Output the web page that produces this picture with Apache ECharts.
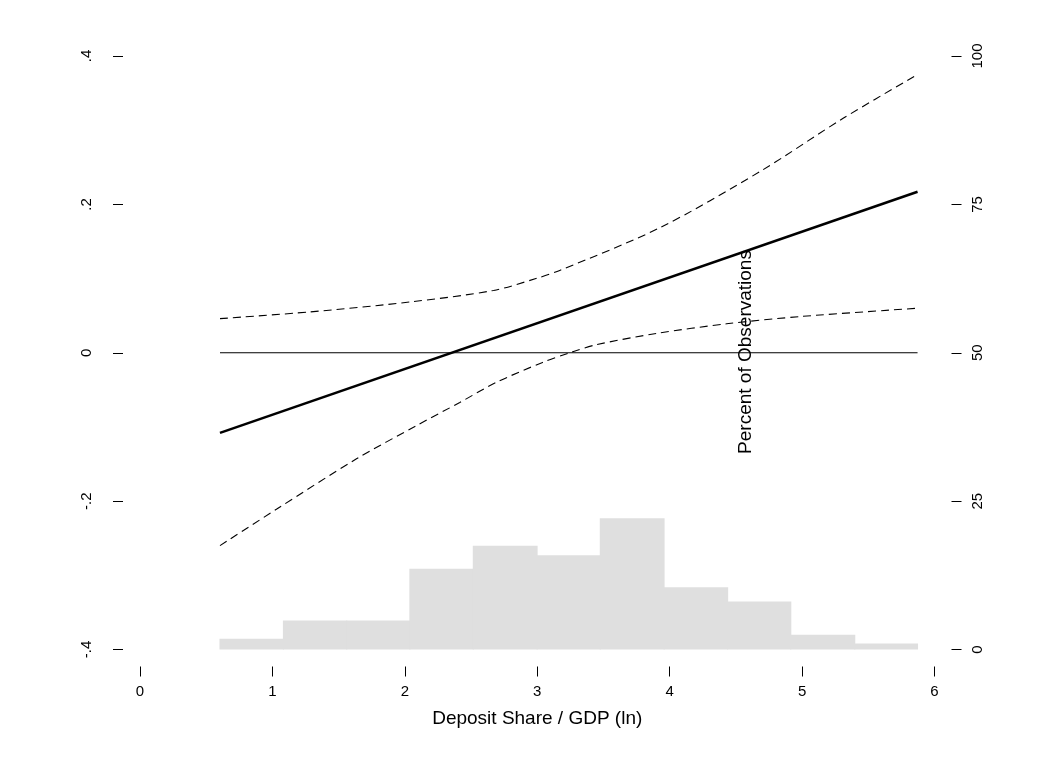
<!DOCTYPE html>
<html>
<head>
<meta charset="UTF-8">
<title>Deposit Share / GDP (ln)</title>
<script src="https://cdn.jsdelivr.net/npm/echarts@6/dist/echarts.min.js"></script>
<style>
  body { margin: 0; background: #ffffff; }
  #chart { width: 1052px; height: 773px; }
</style>
</head>
<body>
<div id="chart"></div>
<script>
// histogram of observations (right axis, percent)
const binEdges = [0.604, 1.083, 1.562, 2.038, 2.517, 2.999, 3.476, 3.958, 4.438, 4.915, 5.398, 5.872];
const binPct = [1.8, 4.9, 4.9, 13.6, 17.5, 15.9, 22.1, 10.5, 8.1, 2.5, 1.0];

// marginal effect and confidence band (left axis)
const effectLine = [[0.604, -0.108], [5.872, 0.217]];
const upperBand = [[0.604, 0.046], [1.28, 0.055], [2.04, 0.0685], [2.67, 0.084], [2.99, 0.100],
  [3.17, 0.111], [3.92, 0.168], [4.68, 0.244], [5.31, 0.316], [5.872, 0.375]];
const lowerBand = [[0.604, -0.260], [1.03, -0.211], [1.635, -0.143], [2.09, -0.098], [2.415, -0.067],
  [2.69, -0.040], [3.04, -0.013], [3.245, 0.000], [3.45, 0.011], [3.9, 0.026], [4.43, 0.039],
  [5.0, 0.049], [5.872, 0.060]];
const zeroLine = [[0.604, 0], [5.872, 0]];

const leftTickLabels = ['-.4', '-.2', '0', '.2', '.4'];
const rightTickLabels = ['0', '25', '50', '75', '100'];
const xTickLabels = ['0', '1', '2', '3', '4', '5', '6'];

const histData = binPct.map((p, i) => [binEdges[i], binEdges[i + 1], p]);

const font = 'Liberation Sans, Arial, sans-serif';
const tickStyle = { show: true, length: 10, lineStyle: { color: '#000', width: 1 } };
const hiddenLine = { show: false, onZero: false };

const option = {
  animation: false,
  backgroundColor: '#ffffff',
  textStyle: { fontFamily: font },
  grid: { left: 140, right: 117.5, top: 56, bottom: 123.5, containLabel: false },
  xAxis: {
    type: 'value', min: 0, max: 6, interval: 1, offset: 17,
    axisLine: hiddenLine,
    axisTick: tickStyle,
    splitLine: { show: false },
    axisLabel: { color: '#000', fontSize: 15, margin: 18, fontFamily: font,
      formatter: v => xTickLabels[Math.round(v)] },
    name: 'Deposit Share / GDP (ln)', nameLocation: 'middle', nameGap: 43,
    nameTextStyle: { color: '#000', fontSize: 19, fontFamily: font }
  },
  yAxis: [
    {
      type: 'value', position: 'left', min: -0.4, max: 0.4, interval: 0.2, offset: 17,
      axisLine: hiddenLine,
      axisTick: tickStyle,
      splitLine: { show: false },
      axisLabel: { color: '#000', fontSize: 15, margin: 29, rotate: 90, fontFamily: font,
        formatter: v => leftTickLabels[Math.round((v + 0.4) / 0.2)] }
    },
    {
      type: 'value', position: 'right', min: 0, max: 100, interval: 25, offset: 17,
      axisLine: hiddenLine,
      axisTick: tickStyle,
      splitLine: { show: false },
      axisLabel: { color: '#000', fontSize: 15, margin: 19, rotate: 90, fontFamily: font,
        formatter: v => rightTickLabels[Math.round(v / 25)] }
    }
  ],
  graphic: [
    {
      type: 'text', x: 746, y: 352, rotation: Math.PI / 2,
      style: { text: 'Percent of Observations', fill: '#000', fontSize: 19, fontFamily: font,
        align: 'center', verticalAlign: 'middle' }
    }
  ],
  series: [
    {
      type: 'custom', yAxisIndex: 1, data: histData,
      encode: { x: [0, 1], y: 2 },
      renderItem: function (params, api) {
        const p0 = api.coord([api.value(0), api.value(2)]);
        const p1 = api.coord([api.value(1), 0]);
        return {
          type: 'rect',
          shape: { x: p0[0] - 0.5, y: p0[1], width: p1[0] - p0[0] + 1, height: p1[1] - p0[1] },
          style: { fill: '#dfdfdf' }
        };
      },
      z: 1
    },
    {
      type: 'line', data: zeroLine, symbol: 'none',
      lineStyle: { color: '#000', width: 1.2 }, z: 2
    },
    {
      type: 'line', data: upperBand, symbol: 'none', smooth: 0.3,
      lineStyle: { color: '#000', width: 1.1, type: [8, 5] }, z: 3
    },
    {
      type: 'line', data: lowerBand, symbol: 'none', smooth: 0.3,
      lineStyle: { color: '#000', width: 1.1, type: [8, 5] }, z: 3
    },
    {
      type: 'line', data: effectLine, symbol: 'none',
      lineStyle: { color: '#000', width: 2.6 }, z: 4
    }
  ]
};

const chart = echarts.init(document.getElementById('chart'));
chart.setOption(option);
</script>
</body>
</html>
